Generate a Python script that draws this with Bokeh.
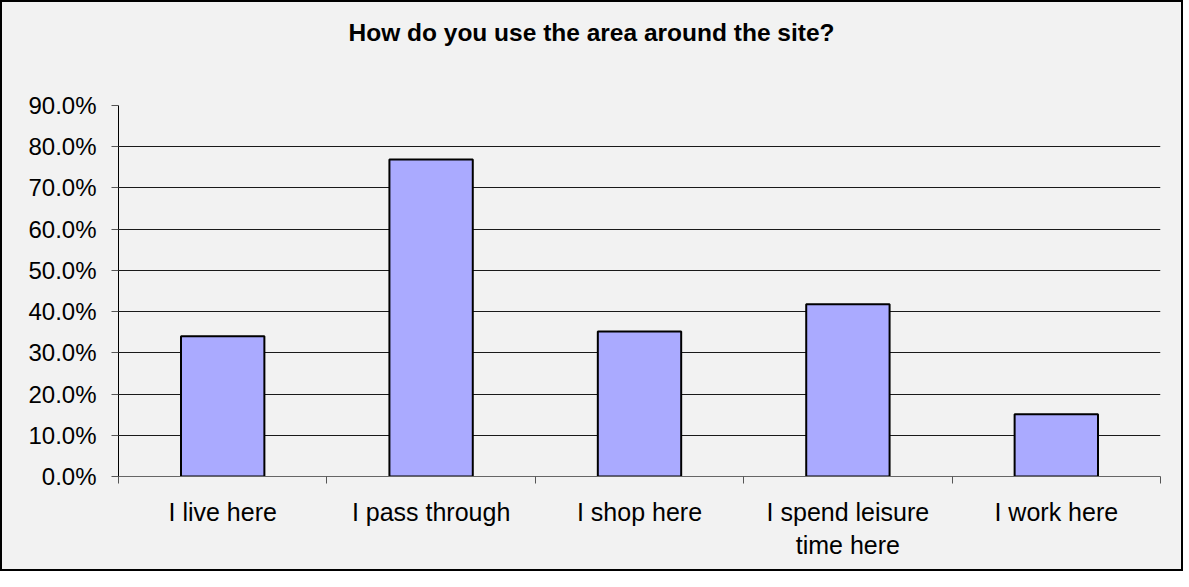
from bokeh.plotting import figure
from bokeh.models import Range1d, FixedTicker, NumeralTickFormatter, LinearAxis, Grid, Div
from bokeh.layouts import column
from bokeh.embed import file_html
from bokeh.resources import INLINE

categories = ["I live here", "I pass through", "I shop here", "I spend leisure\ntime here", "I work here"]
values = [0.340, 0.769, 0.352, 0.418, 0.151]
y_ticks = [0.0, 0.1, 0.2, 0.3, 0.4, 0.5, 0.6, 0.7, 0.8, 0.9]
title_text = "How do you use the area around the site?"

FONT = "Liberation Sans"
BG = "#F2F2F2"
W = 1169
TITLE_H = 57
FIG_H = 500

xs = [i + 0.5 for i in range(len(categories))]

title_div = Div(text=title_text, width=W, height=TITLE_H,
                styles={"font-family": FONT, "font-size": "24.5px", "font-weight": "bold",
                        "text-align": "center", "line-height": "52px", "color": "#000000",
                        "background-color": BG})

p = figure(width=W, height=FIG_H, output_backend="svg", toolbar_location=None,
           x_range=Range1d(0, len(categories)), y_range=Range1d(0, 0.9),
           min_border_left=116, min_border_right=11, min_border_top=36, min_border_bottom=93,
           x_axis_type=None, y_axis_type=None)
p.background_fill_color = BG
p.border_fill_color = BG
p.outline_line_color = None

# y axis
yaxis = LinearAxis(ticker=FixedTicker(ticks=y_ticks), formatter=NumeralTickFormatter(format="0.0%"))
yaxis.axis_line_color = "#000000"
yaxis.axis_line_width = 1
yaxis.major_tick_out = 7
yaxis.major_tick_in = 0
yaxis.major_tick_line_color = "#555555"
yaxis.minor_tick_line_color = None
yaxis.major_label_text_font = FONT
yaxis.major_label_text_font_size = "24px"
yaxis.major_label_text_color = "#000000"
yaxis.major_label_standoff = 15
p.add_layout(yaxis, "left")

# x axis: ticks at category boundaries, labels at centres
xaxis = LinearAxis(ticker=FixedTicker(ticks=xs, minor_ticks=list(range(len(categories) + 1))))
xaxis.major_label_overrides = {x: c for x, c in zip(xs, categories)}
xaxis.axis_line_color = "#666666"
xaxis.major_tick_out = 0
xaxis.major_tick_in = 0
xaxis.major_tick_line_color = None
xaxis.minor_tick_out = 7
xaxis.minor_tick_in = 0
xaxis.minor_tick_line_color = "#555555"
xaxis.major_label_text_font = FONT
xaxis.major_label_text_font_size = "25px"
xaxis.major_label_text_color = "#000000"
xaxis.major_label_standoff = 14
p.add_layout(xaxis, "below")

grid = Grid(dimension=1, ticker=FixedTicker(ticks=y_ticks[1:]), grid_line_color="#1a1a1a", grid_line_width=1)
p.add_layout(grid)

p.vbar(x=xs, top=values, width=0.4, bottom=0, fill_color="#AAAAFF", line_color="#000000", line_width=2)

layout = column(title_div, p, spacing=0,
                styles={"border": "2px solid #000000", "background-color": BG})

open("out.html", "w").write(file_html(layout, INLINE))
